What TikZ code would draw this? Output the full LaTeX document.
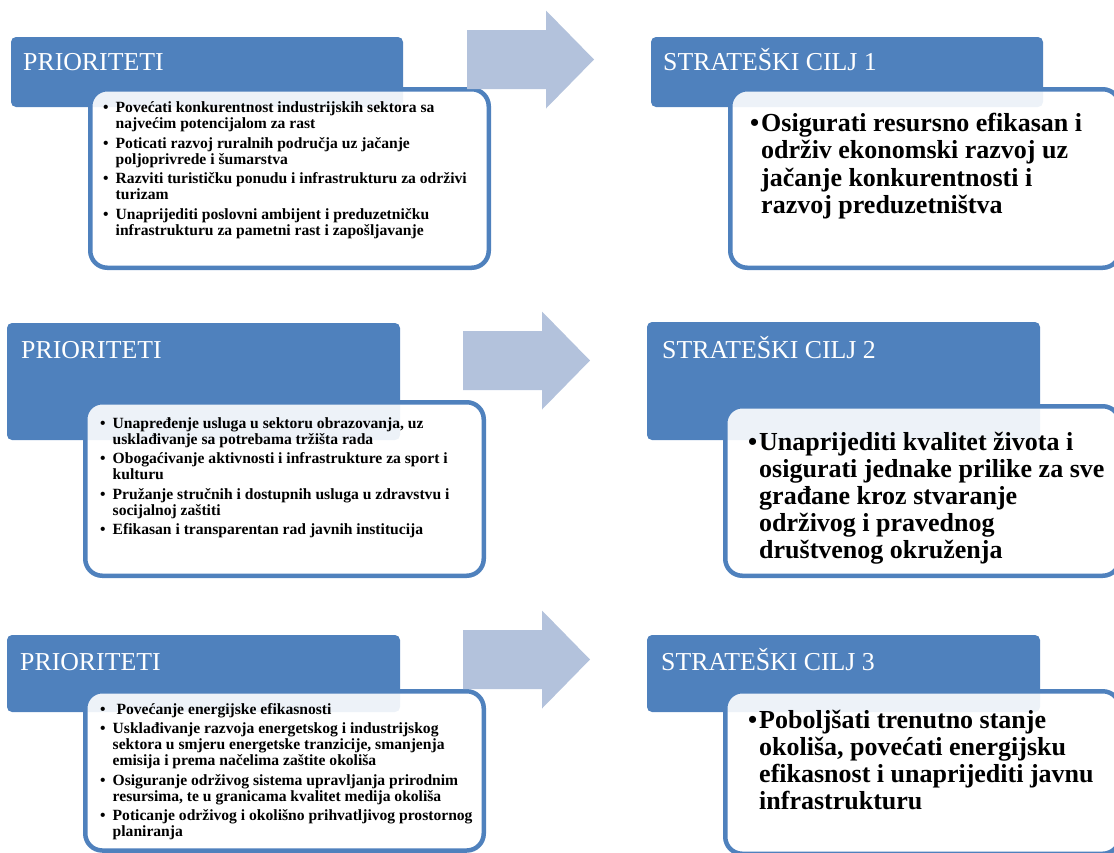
\documentclass[tikz,border=0pt]{standalone}
\usepackage{fontspec}
\setmainfont{Liberation Serif}
\usepackage{xcolor}
\usepackage{tikz}

\definecolor{hdrblue}{HTML}{4F81BD}
\definecolor{arrowblue}{HTML}{B3C2DC}

% one bullet of a priority list (small text, hanging indent)
\newcommand{\prioitem}[1]{\hangindent=12.5pt\hangafter=1\noindent\makebox[12.5pt][l]{•}#1\par}
\newcommand{\priolist}[1]{\parbox[t]{385pt}{\fontsize{15.6}{16.2}\selectfont\bfseries
  \rightskip=0pt plus 1fil\parskip=3.1pt\parindent=0pt #1}}
% the goal text of a strateski cilj box (large text)
\newcommand{\goaltext}[1]{\parbox[t]{372pt}{\fontsize{26}{27.2}\selectfont\bfseries
  \rightskip=0pt plus 1fil\hangindent=11pt\hangafter=1\noindent\makebox[11pt][l]{•}#1\par}}

\begin{document}
\begin{tikzpicture}[x=1pt,y=-1pt,
    hdr/.style={fill=hdrblue,rounded corners=5pt},
    card/.style={fill=white,fill opacity=0.9,draw=hdrblue,line width=4.5pt,rounded corners=17pt},
    blockarrow/.style={fill=arrowblue},
    title/.style={anchor=base west,inner sep=0pt,text=white,font=\fontsize{25.8}{30}\selectfont},
    body/.style={anchor=base west,inner sep=0pt}]
    \useasboundingbox (0,0) rectangle (1114,852);
    \clip (0,0) rectangle (1114,852);
    % header bars
    \fill[hdr] (11,37) rectangle (403,107);
    \fill[hdr] (651,37) rectangle (1043,107);
    \fill[hdr] (7,323) rectangle (400,440);
    \fill[hdr] (647,322) rectangle (1040,440);
    \fill[hdr] (7,635) rectangle (400,712);
    \fill[hdr] (647,635) rectangle (1040,712);
    \node[title] (pri1) at (23,70) {PRIORITETI};
    \node[title] (pri2) at (21,358) {PRIORITETI};
    \node[title] (pri3) at (20,670) {PRIORITETI};
    \node[title] (cilj1) at (663,70) {STRATEŠKI CILJ 1};
    \node[title] (cilj2) at (662,358) {STRATEŠKI CILJ 2};
    \node[title] (cilj3) at (661,670) {STRATEŠKI CILJ 3};
    % white cards, lying over the header bars
    \draw[card] (90.25,89.25) rectangle (488.75,267.75);
    \draw[card] (730.25,89.25) rectangle (1119.75,267.75);
    \draw[card] (85.25,402.25) rectangle (483.75,575.75);
    \draw[card] (725.25,406.25) rectangle (1119.75,575.75);
    \draw[card] (85.25,691.25) rectangle (483.75,850.5);
    \draw[card] (725.25,691.25) rectangle (1119.75,853.75);
    % block arrows from priorities to goals
    \foreach \ax/\ay in {467/59.5,463/360.5,463/659.5}
      \fill[blockarrow] (\ax,\ay-29.5) -- ++(79,0) -- ++(0,-19.5) -- (\ax+127,\ay)
        -- (\ax+79,\ay+49) -- ++(0,-19.5) -- (\ax,\ay+29.5) -- cycle;
    % priority lists
    \node[body] (pri1list) at (103,112.5) {\priolist{%
      \prioitem{Povećati konkurentnost industrijskih sektora sa\newline najvećim potencijalom za rast}
      \prioitem{Poticati razvoj ruralnih područja uz jačanje\newline poljoprivrede i šumarstva}
      \prioitem{Razviti turističku ponudu i infrastrukturu za održivi\newline turizam}
      \prioitem{Unaprijediti poslovni ambijent i preduzetničku\newline infrastrukturu za pametni rast i zapošljavanje}}};
    \node[body] (pri2list) at (100,428) {\priolist{%
      \prioitem{Unapređenje usluga u sektoru obrazovanja, uz\newline usklađivanje sa potrebama tržišta rada}
      \prioitem{Obogaćivanje aktivnosti i infrastrukture za sport i\newline kulturu}
      \prioitem{Pružanje stručnih i dostupnih usluga u zdravstvu i\newline socijalnoj zaštiti}
      \prioitem{Efikasan i transparentan rad javnih institucija}}};
    \node[body] (pri3list) at (100,714) {\priolist{%
      \prioitem{ Povećanje energijske efikasnosti}
      \prioitem{Usklađivanje razvoja energetskog i industrijskog\newline sektora u smjeru energetske tranzicije, smanjenja\newline emisija i prema načelima zaštite okoliša}
      \prioitem{Osiguranje održivog sistema upravljanja prirodnim\newline resursima, te u granicama kvalitet medija okoliša}
      \prioitem{Poticanje održivog i okolišno prihvatljivog prostornog\newline planiranja}}};
    % goals
    \node[body] (cilj1text) at (750,131.7) {\goaltext{Osigurati resursno efikasan i\newline održiv ekonomski razvoj uz\newline jačanje konkurentnosti i\newline razvoj preduzetništva}};
    \node[body] (cilj2text) at (748,450) {\goaltext{Unaprijediti kvalitet života i\newline osigurati jednake prilike za sve\newline građane kroz stvaranje\newline održivog i pravednog\newline društvenog okruženja}};
    \node[body] (cilj3text) at (748,728) {\goaltext{Poboljšati trenutno stanje\newline okoliša, povećati energijsku\newline efikasnost i unaprijediti javnu\newline infrastrukturu}};
  \end{tikzpicture}
\end{document}
